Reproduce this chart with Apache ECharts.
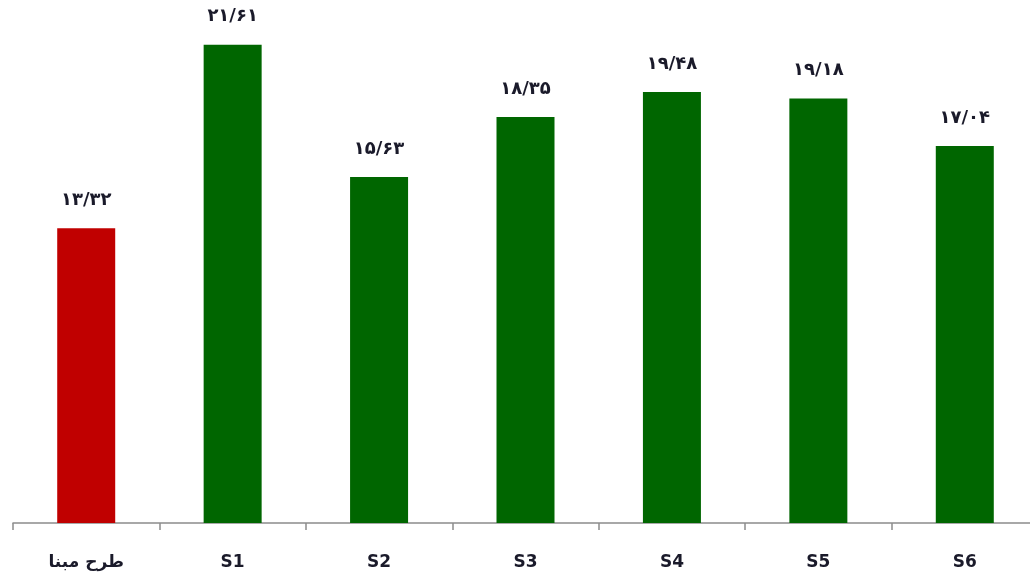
<!DOCTYPE html>
<html>
<head>
<meta charset="utf-8">
<script src="https://cdn.jsdelivr.net/npm/echarts@6/dist/echarts.min.js"></script>
<style>
  html, body { margin: 0; padding: 0; background: #ffffff; overflow: hidden; }
  /* the plot runs a little past the right edge of the window */
  #chart { width: 1040px; height: 585px; }
</style>
</head>
<body>
<div id="chart"></div>
<script>
// Scenario names and their values
const categories = ['طرح مبنا', 'S1', 'S2', 'S3', 'S4', 'S5', 'S6'];
const values = [13.32, 21.61, 15.63, 18.35, 19.48, 19.18, 17.04];
const barColors = ['#c00000', '#006600', '#006600', '#006600', '#006600', '#006600', '#006600'];

// Format a number with Persian digits and a slash as decimal separator
const faDigits = '۰۱۲۳۴۵۶۷۸۹';
function toPersian(v) {
  return v.toFixed(2).replace('.', '/').replace(/[0-9]/g, d => faDigits[+d]);
}

const chart = echarts.init(document.getElementById('chart'), null, { renderer: 'canvas' });

chart.setOption({
  animation: false,
  backgroundColor: '#ffffff',
  grid: { left: 13, top: 14, right: 2, bottom: 62, containLabel: false },
  xAxis: {
    type: 'category',
    data: categories,
    axisLine: { show: true, lineStyle: { color: '#8c8c8c', width: 1.5 } },
    axisTick: { show: true, alignWithLabel: false, length: 7, inside: false, lineStyle: { color: '#8c8c8c', width: 1.5 } },
    axisLabel: {
      margin: 31,
      fontFamily: 'DejaVu Sans',
      fontWeight: 'bold',
      fontSize: 17,
      color: '#1a1a2a'
    }
  },
  yAxis: {
    type: 'value',
    min: 0,
    max: 23,
    show: false,
    splitLine: { show: false }
  },
  series: [{
    type: 'bar',
    barWidth: 58,
    data: values.map((v, i) => ({ value: v, itemStyle: { color: barColors[i] } })),
    label: {
      show: true,
      position: 'top',
      distance: 19,
      fontFamily: 'DejaVu Sans',
      fontWeight: 'bold',
      fontSize: 18,
      color: '#1a1a2a',
      formatter: p => toPersian(p.value)
    }
  }]
});
</script>
</body>
</html>
